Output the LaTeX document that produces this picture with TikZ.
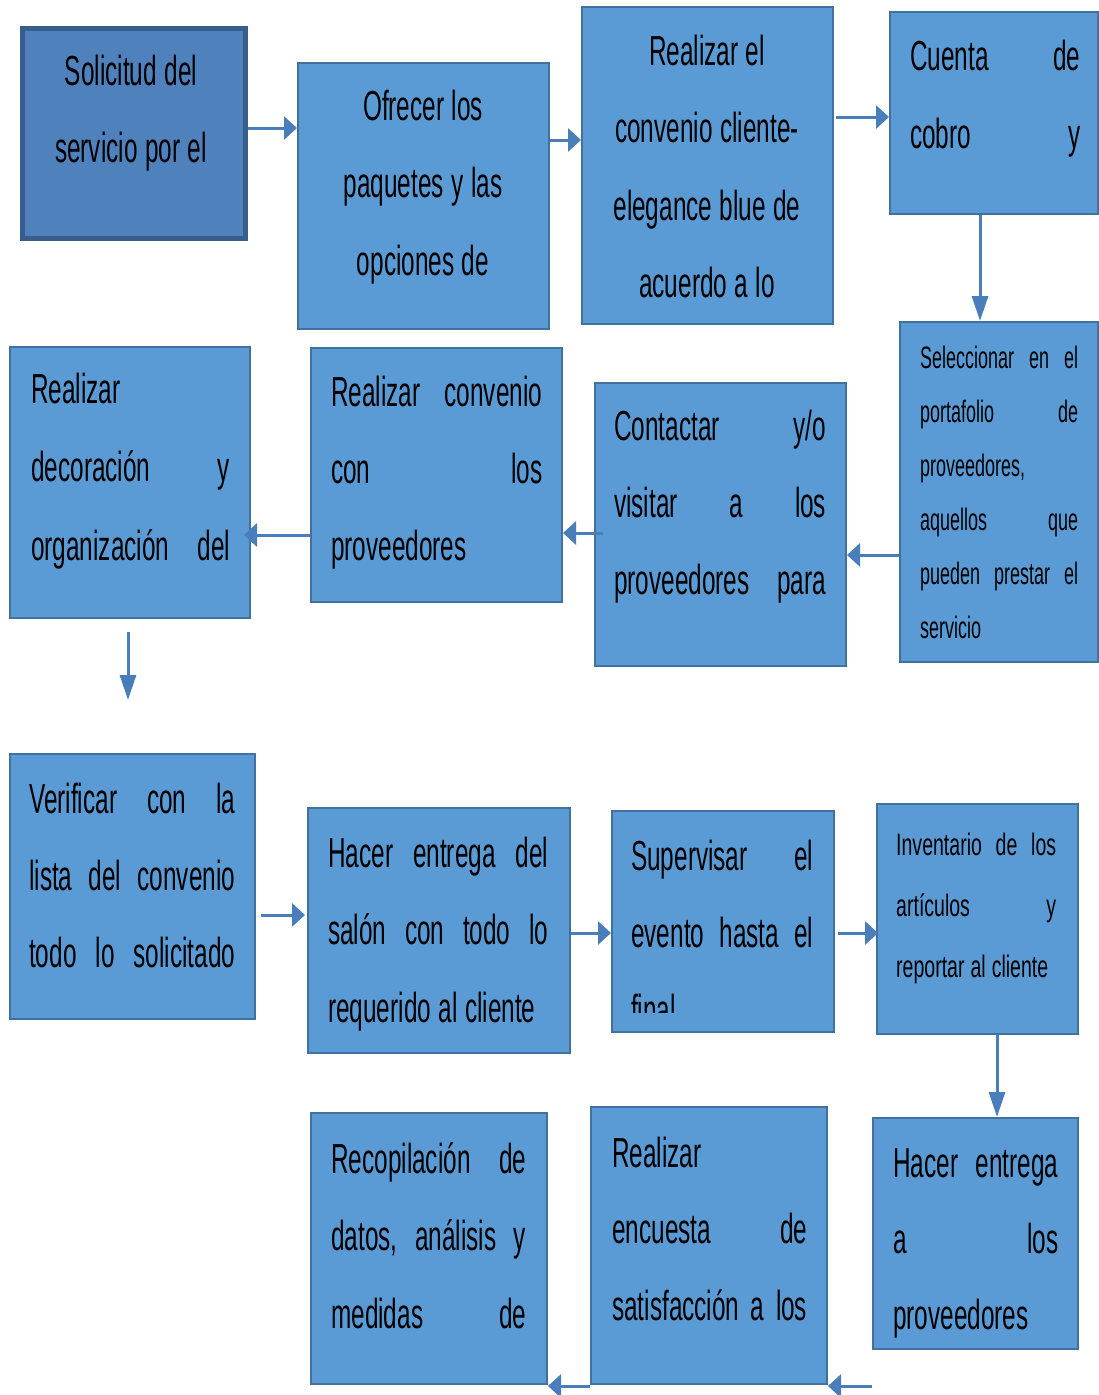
\documentclass[tikz,border=0pt]{standalone}
\usepackage{fontspec}
\setmainfont{Liberation Sans}[FakeStretch=0.58]
\newfontfamily\widerfont{Liberation Sans}[FakeStretch=0.63]
\usetikzlibrary{arrows.meta}
\definecolor{boxfill}{RGB}{91,155,213}
\definecolor{boxline}{RGB}{65,113,156}
\definecolor{firstfill}{RGB}{79,129,189}
\definecolor{firstline}{RGB}{56,93,138}
\definecolor{arrowc}{RGB}{74,126,187}
\newcommand{\bigsize}[1]{\fontsize{42}{#1}\selectfont}
\newcommand{\smallsize}[1]{\fontsize{31}{#1}\selectfont}
\newcommand{\ws}{\hspace{7.5pt}}
\newcommand{\wss}{\hspace{6pt}}
\tikzset{
  procbox/.style={rectangle, fill=boxfill, draw=boxline, line width=2pt, anchor=north west, inner sep=0pt},
  firstbox/.style={procbox, fill=firstfill, draw=firstline, line width=5pt},
  bigtxt/.style={inner sep=0pt, anchor=base west, align=left, font=\bigsize{77}},
  ctrtxt/.style={inner sep=0pt, anchor=base, align=center, font=\bigsize{77.5}},
  smalltxt/.style={inner sep=0pt, anchor=base west, align=left, font=\smallsize{54}},
  harrow/.style={draw=arrowc, line width=3pt, -{Triangle[length=13pt,width=23pt]}},
  varrow/.style={draw=arrowc, line width=3pt, -{Triangle[length=25pt,width=16pt]}}
}
\begin{document}
\begin{tikzpicture}[x=1pt,y=-1pt]
\useasboundingbox (0,0) rectangle (1098,1395);
% boxes
\node[firstbox, minimum width=223pt, minimum height=210pt] (b1) at (20,26) {};
\node[procbox, minimum width=251pt, minimum height=266pt] (b2) at (297,62) {};
\node[procbox, minimum width=251pt, minimum height=317pt] (b3) at (581,6) {};
\node[procbox, minimum width=208pt, minimum height=202pt] (b4) at (889,11) {};
\node[procbox, minimum width=198pt, minimum height=340pt] (b5) at (899,321) {};
\node[procbox, minimum width=251pt, minimum height=283pt] (b6) at (594,382) {};
\node[procbox, minimum width=251pt, minimum height=254pt] (b7) at (310,347) {};
\node[procbox, minimum width=240pt, minimum height=271pt] (b8) at (9,346) {};
\node[procbox, minimum width=245pt, minimum height=265pt] (b9) at (9,753) {};
\node[procbox, minimum width=262pt, minimum height=245pt] (b10) at (307,807) {};
\node[procbox, minimum width=222pt, minimum height=221pt] (b11) at (611,810) {};
\node[procbox, minimum width=201pt, minimum height=230pt] (b12) at (876,803) {};
\node[procbox, minimum width=205pt, minimum height=231pt] (b13) at (872,1117) {};
\node[procbox, minimum width=236pt, minimum height=277pt] (b14) at (590,1106) {};
\node[procbox, minimum width=236pt, minimum height=271pt] (b15) at (310,1112) {};
% texts
\node[ctrtxt, text width=210pt] (t1) at (131,85) {Solicitud\ws del\\servicio\ws por\ws el};
\node[ctrtxt, text width=240pt] (t2) at (423,120) {Ofrecer\ws los\\paquetes\ws y\ws las\\opciones\ws de};
\node[ctrtxt, text width=240pt] (t3) at (707,65) {Realizar\ws el\\convenio\ws cliente-\\elegance\ws blue\ws de\\acuerdo\ws a\ws lo};
\node[bigtxt, text width=170pt, font=\bigsize{78}] (t4) at (910,70) {Cuenta\hfill de\\cobro\hfill y};
\node[smalltxt, text width=158pt] (t5) at (920,368) {Seleccionar\hfill en\hfill el\\portafolio\hfill de\\proveedores,\\aquellos\hfill que\\pueden\hfill prestar\hfill el\\servicio};
\node[bigtxt, text width=212pt] (t6) at (614,440) {Contactar\hfill y/o\\visitar\hfill a\hfill los\\proveedores\hfill para};
\node[bigtxt, text width=211pt] (t7) at (331,406) {Realizar\hfill convenio\\con\hfill los\\proveedores};
\node[bigtxt, text width=199pt, font=\bigsize{78.5}] (t8) at (31,403) {Realizar\\decoración\hfill y\\organización\hfill del};
\node[bigtxt, text width=206pt] (t9) at (29,813) {Verificar\hfill con\hfill la\\lista\hfill del\hfill convenio\\todo\hfill lo\hfill solicitado};
\node[bigtxt, text width=220pt, font=\bigsize{77.5}] (t10) at (328,867) {Hacer\hfill entrega\hfill del\\salón\hfill con\hfill todo\hfill lo\\requerido\ws al\ws cliente};
\begin{scope}
\clip (611,810) rectangle (833,1012);
\node[bigtxt, text width=182pt] (t11) at (631,870) {Supervisar\hfill el\\evento\hfill hasta\hfill el\\final};
\end{scope}
\node[smalltxt, text width=160pt, font=\widerfont\smallsize{61}] (t12) at (896,855) {Inventario\hfill de\hfill los\\artículos\hfill y\\reportar\wss al\wss cliente};
\node[bigtxt, text width=165pt, font=\bigsize{76}] (t13) at (893,1177) {Hacer\hfill entrega\\a\hfill los\\proveedores};
\node[bigtxt, text width=195pt, font=\bigsize{76.5}] (t14) at (612,1167) {Realizar\\encuesta\hfill de\\satisfacción\hfill a\hfill los};
\node[bigtxt, text width=195pt, font=\bigsize{77.5}] (t15) at (331,1173) {Recopilación\hfill de\\datos,\hfill análisis\hfill y\\medidas\hfill de};
% arrow levels
\coordinate (y12) at (0,128);
\coordinate (y23) at (0,140);
\coordinate (y34) at (0,117);
\coordinate (x45) at (980,0);
\coordinate (y56) at (0,555);
\coordinate (y67) at (0,533);
\coordinate (y78) at (0,535);
\coordinate (x89) at (128,0);
\coordinate (y910) at (0,915);
\coordinate (y1011) at (0,933);
\coordinate (y1112) at (0,933);
\coordinate (x1213) at (997,0);
\coordinate (y1314) at (0,1386);
\coordinate (y1415) at (0,1386);
% connectors
\draw[harrow] (y12 -| b1.east) -- (y12 -| b2.west);
\draw[harrow] (y23 -| b2.east) -- (y23 -| b3.west);
\draw[harrow] ([xshift=2pt]y34 -| b3.east) -- (y34 -| b4.west);
\draw[varrow] (x45 |- b4.south) -- (x45 |- b5.north);
\draw[harrow] (y56 -| b5.west) -- (y56 -| b6.east);
\draw[harrow] ([xshift=9pt]y67 -| b6.west) -- (y67 -| b7.east);
\draw[harrow] (y78 -| b7.west) -- ([xshift=-7pt]y78 -| b8.east);
\draw[varrow] ([yshift=-13pt]x89 |- b8.south) -- ([yshift=53pt]x89 |- b9.north);
\draw[harrow] ([xshift=5pt]y910 -| b9.east) -- ([xshift=-2pt]y910 -| b10.west);
\draw[harrow] (y1011 -| b10.east) -- (y1011 -| b11.west);
\draw[harrow] ([xshift=3pt]y1112 -| b11.east) -- ([xshift=2pt]y1112 -| b12.west);
\draw[varrow] (x1213 |- b12.south) -- (x1213 |- b13.north);
\draw[harrow] (y1314 -| b13.west) -- (y1314 -| b14.east);
\draw[harrow] (y1415 -| b14.west) -- (y1415 -| b15.east);
\end{tikzpicture}
\end{document}
